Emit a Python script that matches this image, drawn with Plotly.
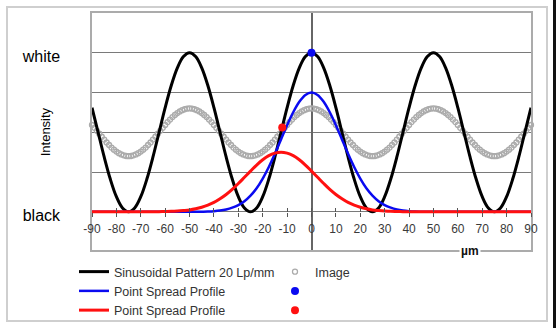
import plotly.graph_objects as go

# ---------------- data ----------------
x_line = [-90 + 2.5 * i for i in range(73)]          # µm, line series sampling
x_img = list(range(-90, 91))                          # µm, image samples

sinus = [0.655, 0.5, 0.345, 0.206, 0.095, 0.024, 0.0, 0.024, 0.095, 0.206, 0.345, 0.5, 0.655, 0.794, 0.905, 0.976, 1.0,
         0.976, 0.905, 0.794, 0.655, 0.5, 0.345, 0.206, 0.095, 0.024, 0.0,
         0.024, 0.095, 0.206, 0.345, 0.5, 0.655, 0.794, 0.905, 0.976, 1.0,
         0.976, 0.905, 0.794, 0.655, 0.5, 0.345, 0.206, 0.095, 0.024, 0.0,
         0.024, 0.095, 0.206, 0.345, 0.5, 0.655, 0.794, 0.905, 0.976, 1.0,
         0.976, 0.905, 0.794, 0.655, 0.5, 0.345, 0.206, 0.095, 0.024, 0.0, 0.024, 0.095, 0.206, 0.345, 0.5, 0.655]

psf_blue = [0, 0, 0, 0, 0, 0, 0, 0, 0, 0, 0, 0, 0, 0, 0, 0, 0, 0,
            0.001, 0.002, 0.004, 0.008, 0.015, 0.026, 0.042, 0.067, 0.102, 0.148, 0.209, 0.282, 0.365, 0.455, 0.545, 0.626, 0.692, 0.735,
            0.75,
            0.735, 0.692, 0.626, 0.545, 0.455, 0.365, 0.282, 0.209, 0.148, 0.102, 0.067, 0.042, 0.026, 0.015, 0.008, 0.004, 0.002, 0.001,
            0, 0, 0, 0, 0, 0, 0, 0, 0, 0, 0, 0, 0, 0, 0, 0, 0, 0]

psf_red = [0, 0, 0, 0, 0, 0, 0, 0, 0, 0, 0,
           0.001, 0.002, 0.003, 0.005, 0.008, 0.012, 0.019, 0.029, 0.042, 0.059, 0.082, 0.109, 0.141, 0.178, 0.217, 0.256, 0.294, 0.327, 0.353, 0.369,
           0.375,
           0.369, 0.353, 0.327, 0.294, 0.256, 0.217, 0.178, 0.141, 0.109, 0.082, 0.059, 0.042, 0.029, 0.019, 0.012, 0.008, 0.005, 0.003, 0.002, 0.001,
           0, 0, 0, 0, 0, 0, 0, 0, 0, 0, 0, 0, 0, 0, 0, 0, 0, 0, 0, 0, 0]

image = [0.546, 0.528, 0.509, 0.491, 0.472, 0.454, 0.436, 0.420, 0.404, 0.391, 0.379, 0.369, 0.361, 0.355, 0.351,
         0.350,
         0.351, 0.355, 0.361, 0.369, 0.379, 0.391, 0.404, 0.420, 0.436, 0.454, 0.472, 0.491, 0.509, 0.528, 0.546, 0.564, 0.580, 0.596, 0.609, 0.621, 0.631, 0.639, 0.645, 0.649, 0.650,
         0.649, 0.645, 0.639, 0.631, 0.621, 0.609, 0.596, 0.580, 0.564, 0.546, 0.528, 0.509, 0.491, 0.472, 0.454, 0.436, 0.420, 0.404, 0.391, 0.379, 0.369, 0.361, 0.355, 0.351, 0.350,
         0.351, 0.355, 0.361, 0.369, 0.379, 0.391, 0.404, 0.420, 0.436, 0.454, 0.472, 0.491, 0.509, 0.528, 0.546, 0.564, 0.580, 0.596, 0.609, 0.621, 0.631, 0.639, 0.645, 0.649, 0.650,
         0.649, 0.645, 0.639, 0.631, 0.621, 0.609, 0.596, 0.580, 0.564, 0.546, 0.528, 0.509, 0.491, 0.472, 0.454, 0.436, 0.420, 0.404, 0.391, 0.379, 0.369, 0.361, 0.355, 0.351, 0.350,
         0.351, 0.355, 0.361, 0.369, 0.379, 0.391, 0.404, 0.420, 0.436, 0.454, 0.472, 0.491, 0.509, 0.528, 0.546, 0.564, 0.580, 0.596, 0.609, 0.621, 0.631, 0.639, 0.645, 0.649, 0.650,
         0.649, 0.645, 0.639, 0.631, 0.621, 0.609, 0.596, 0.580, 0.564, 0.546, 0.528, 0.509, 0.491, 0.472, 0.454, 0.436, 0.420, 0.404, 0.391, 0.379, 0.369, 0.361, 0.355, 0.351, 0.350,
         0.351, 0.355, 0.361, 0.369, 0.379, 0.391, 0.404, 0.420, 0.436, 0.454, 0.472, 0.491, 0.509, 0.528, 0.546]

blue_dot_x, blue_dot_y = [0], [1.0]
red_dot_x, red_dot_y = [-12], [0.53]

x_ticks = list(range(-90, 91, 10))
x_tick_text = ["-90", "-80", "-70", "-60", "-50", "-40", "-30", "-20", "-10", "0",
               "10", "20", "30", "40", "50", "60", "70", "80", "90"]
y_tick_vals = [0, 1]
y_tick_text = ["black", "white"]

names = ["Sinusoidal Pattern 20 Lp/mm", "Image", "Point Spread Profile", " ", "Point Spread Profile", " "]

FONT = "Liberation Sans, Arial, sans-serif"
BLUE = "#0a0af0"
RED = "#ff1010"

fig = go.Figure()
fig.add_trace(go.Scatter(x=x_img, y=image, mode="markers", name=names[1], legendrank=2,
                         cliponaxis=False,
                         marker=dict(symbol="circle-open", size=5, color="#ababab", line=dict(width=1.3, color="#ababab"))))
fig.add_trace(go.Scatter(x=x_line, y=sinus, mode="lines", name=names[0], legendrank=1,
                         line=dict(color="black", width=3, shape="spline")))
fig.add_trace(go.Scatter(x=x_line, y=psf_blue, mode="lines", name=names[2], legendrank=3,
                         line=dict(color=BLUE, width=2.5, shape="spline")))
fig.add_trace(go.Scatter(x=blue_dot_x, y=blue_dot_y, mode="markers", name=names[3], legendrank=4,
                         xaxis="x2", cliponaxis=False,
                         marker=dict(size=8, color=BLUE)))
fig.add_trace(go.Scatter(x=x_line, y=psf_red, mode="lines", name=names[4], legendrank=5,
                         xaxis="x3", line=dict(color=RED, width=3, shape="spline")))
fig.add_trace(go.Scatter(x=red_dot_x, y=red_dot_y, mode="markers", name=names[5], legendrank=6,
                         xaxis="x3", cliponaxis=False,
                         marker=dict(size=8, color=RED)))

L, R, T, B = 92, 25, 13, 78
W, H = 556, 328
pw, ph = W - L - R, H - T - B
y_range = [-0.24, 1.25]
x_range = [-90, 90]
zero_pos = (0 - y_range[0]) / (y_range[1] - y_range[0])


def px_x(p):
    return (p - L) / pw


def px_y(p):
    return (H - B - p) / ph


common_tick = dict(range=x_range, tickvals=x_ticks, ticktext=x_tick_text, showgrid=False, zeroline=False,
                   showline=False, tickcolor="#555555", tickwidth=1, ticklen=4)

fig.update_layout(
    width=W, height=H,
    margin=dict(l=L, r=R, t=T, b=B, autoexpand=False),
    paper_bgcolor="white", plot_bgcolor="white",
    font=dict(family=FONT, color="#333333", size=12),
    showlegend=True,
    legend=dict(orientation="h", x=px_x(74), y=px_y(257), xanchor="left", yanchor="top",
                entrywidth=156, entrywidthmode="pixels", bgcolor="rgba(0,0,0,0)",
                font=dict(family=FONT, size=12.5, color="#333333"), itemwidth=30, traceorder="normal"),
    xaxis=dict(range=x_range, showgrid=False, showticklabels=False, ticks="",
               showline=True, mirror=True, linecolor="#ababab", linewidth=1.5,
               zeroline=True, zerolinecolor="#666666", zerolinewidth=1.5),
    xaxis2=dict(overlaying="x", anchor="free", position=zero_pos, side="bottom", ticks="outside",
                showticklabels=True, tickfont=dict(family=FONT, size=12, color="#3a3a3a"),
                ticklabelstandoff=2, **common_tick),
    xaxis3=dict(overlaying="x", anchor="free", position=zero_pos, side="bottom", ticks="inside",
                showticklabels=False, **common_tick),
    yaxis=dict(range=y_range, tickvals=y_tick_vals, ticktext=y_tick_text, ticks="",
               tickfont=dict(family=FONT, size=16, color="black"), ticklabelstandoff=27,
               ticklabelshift=4,
               showgrid=True, gridcolor="#7a7a7a", gridwidth=1.2, zeroline=False,
               showline=True, mirror=True, linecolor="#ababab", linewidth=1.5,
               minor=dict(dtick=0.25, tick0=0, showgrid=True, gridcolor="#7a7a7a", gridwidth=1.2, ticks="")),
)

fig.add_annotation(text="Intensity", textangle=-90, xref="paper", yref="y", x=px_x(45), y=0.5,
                   showarrow=False, font=dict(family=FONT, size=13, color="black"),
                   xanchor="center", yanchor="middle")
fig.add_annotation(text="µm", xref="x", yref="paper", x=65, y=0, showarrow=False,
                   font=dict(family=FONT, size=12, color="#111111", weight="bold"),
                   bgcolor="white", borderpad=1, xanchor="center", yanchor="middle", yshift=-1)

# outer chart frame
fig.add_shape(type="rect", xref="paper", yref="paper", x0=px_x(7), x1=px_x(547), y0=px_y(321), y1=px_y(7),
              line=dict(color="#cfcfcf", width=2), layer="below")
# dark strip at the right edge of the picture
fig.add_shape(type="rect", xref="paper", yref="paper", x0=px_x(553), x1=px_x(560), y0=px_y(330), y1=px_y(-2),
              line=dict(width=0), fillcolor="#111111", layer="above")

fig.write_html("out.html")
